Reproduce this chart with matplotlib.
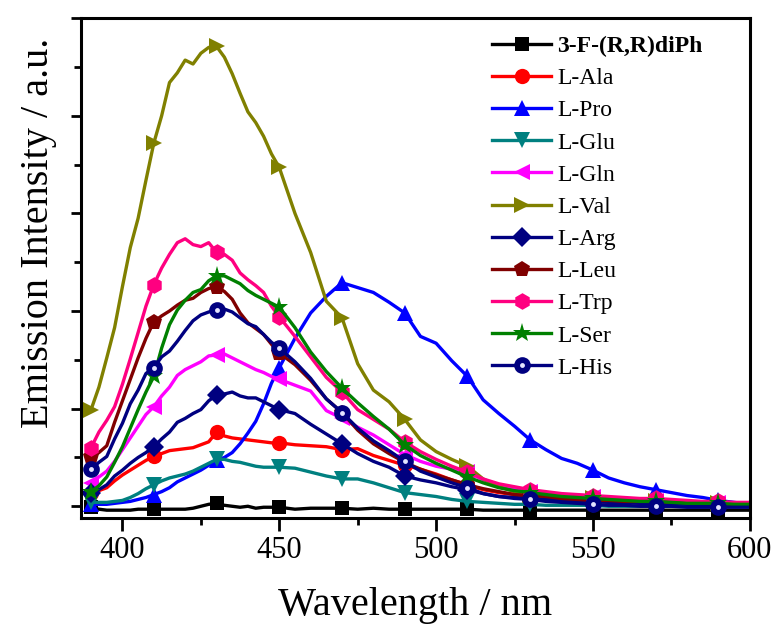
import numpy as np
import matplotlib
matplotlib.use("Agg")
import matplotlib.pyplot as plt
from matplotlib.legend_handler import HandlerTuple

plt.rcParams["font.family"] = ["Liberation Serif", "DejaVu Serif"]

# Emission wavelengths (nm): 2.5 nm steps up to 450 nm, 5 nm steps beyond
wavelength = [390, 392.5, 395, 397.5, 400, 402.5, 405, 407.5, 410, 412.5,
              415, 417.5, 420, 422.5, 425, 427.5, 430, 432.5, 435, 437.5,
              440, 442.5, 445, 447.5, 450,
              455, 460, 465, 470, 475, 480, 485, 490, 495, 500,
              505, 510, 515, 520, 525, 530, 535, 540, 545, 550,
              555, 560, 565, 570, 575, 580, 585, 590, 595, 600]

# Wavelengths carrying a symbol on each curve
marker_wavelengths = [390, 410, 430, 450, 470, 490, 510, 530, 550, 570, 590]

host = [-10, -30, -40, -40, -40, -40, -30, -30, -30, -30,
        -30, -30, -30, -20, 0, 20, 30, 10, 0, -10,
        0, -20, -10, -10, -10,
        -30, -20, -20, -20, -30, -20, -30, -30, -30, -30,
        -30, -30, -40, -40, -40, -40, -40, -40, -40, -40,
        -40, -40, -40, -40, -40, -40, -40, -40, -40, -40]

ala = [140, 160, 190, 260, 320, 370, 420, 470, 510, 540,
       570, 580, 590, 600, 630, 660, 760, 720, 700, 690,
       680, 670, 660, 650, 650,
       630, 620, 610, 580, 590, 520, 470, 420, 380, 330,
       270, 220, 170, 140, 120, 100, 80, 70, 60, 50,
       40, 40, 30, 30, 30, 20, 20, 20, 10, 10]

pro = [20, 20, 20, 30, 40, 50, 70, 90, 120, 150,
       190, 250, 290, 330, 370, 420, 470, 500, 550, 640,
       750, 870, 1050, 1260, 1420,
       1720, 1980, 2150, 2290, 2240, 2190, 2090, 1980, 1740, 1670,
       1490, 1330, 1090, 950, 820, 680, 580, 490, 440, 370,
       290, 240, 200, 170, 140, 110, 90, 60, 40, 20]

glu = [40, 40, 40, 50, 60, 90, 130, 180, 220, 260,
       290, 310, 330, 360, 400, 440, 480, 480, 460, 450,
       430, 410, 400, 400, 400,
       390, 350, 310, 280, 280, 240, 190, 140, 120, 100,
       70, 50, 40, 30, 20, 20, 10, 10, 10, 10,
       0, 0, 0, 0, 0, 0, 0, 0, 0, 0]

gln = [240, 300, 360, 460, 580, 700, 820, 940, 1020, 1130,
       1220, 1340, 1400, 1440, 1480, 1540, 1550, 1560, 1520, 1480,
       1440, 1400, 1370, 1330, 1300,
       1240, 1180, 980, 900, 810, 730, 630, 530, 460, 410,
       380, 350, 270, 210, 180, 150, 130, 120, 110, 90,
       80, 70, 60, 50, 50, 40, 40, 30, 30, 20]

val = [990, 1220, 1520, 1830, 2250, 2650, 2950, 3340, 3720, 4000,
       4340, 4440, 4570, 4530, 4640, 4700, 4710, 4600, 4430, 4230,
       4040, 3930, 3790, 3610, 3470,
       3000, 2600, 2100, 1930, 1460, 1190, 1070, 890, 680, 560,
       480, 410, 280, 200, 150, 120, 100, 90, 80, 80,
       70, 60, 50, 50, 40, 40, 30, 30, 20, 20]

arg = [140, 170, 220, 310, 370, 440, 500, 550, 610, 690,
       760, 860, 900, 950, 990, 1080, 1140, 1150, 1170, 1130,
       1110, 1110, 1070, 1030, 990,
       950, 840, 740, 640, 540, 460, 400, 310, 270, 240,
       200, 170, 130, 100, 90, 80, 70, 60, 50, 50,
       40, 40, 30, 30, 30, 20, 20, 20, 20, 20]

leu = [500, 550, 620, 860, 1080, 1300, 1520, 1720, 1890, 1950,
       2000, 2060, 2110, 2130, 2190, 2230, 2250, 2200, 2120, 1980,
       1880, 1820, 1760, 1660, 1570,
       1450, 1290, 1100, 960, 780, 640, 540, 450, 380, 320,
       270, 220, 180, 150, 120, 110, 100, 80, 70, 60,
       60, 50, 50, 50, 40, 40, 30, 30, 20, 20]

trp = [600, 760, 880, 1020, 1250, 1510, 1780, 2050, 2270, 2440,
       2580, 2700, 2740, 2680, 2660, 2700, 2600, 2580, 2520, 2390,
       2320, 2260, 2190, 2050, 1940,
       1740, 1530, 1320, 1170, 990, 890, 790, 660, 560, 480,
       410, 350, 280, 230, 200, 170, 150, 130, 120, 110,
       100, 90, 80, 80, 70, 60, 50, 50, 40, 40]

ser = [150, 210, 300, 450, 610, 800, 990, 1170, 1330, 1620,
       1860, 2010, 2110, 2190, 2220, 2310, 2360, 2360, 2320, 2280,
       2210, 2160, 2120, 2080, 2040,
       1830, 1580, 1380, 1210, 1060, 920, 790, 630, 520, 440,
       370, 300, 240, 190, 160, 140, 120, 100, 90, 80,
       70, 60, 50, 50, 40, 30, 30, 30, 20, 20]

his = [380, 450, 510, 690, 850, 1050, 1190, 1360, 1420, 1530,
       1590, 1690, 1800, 1900, 1960, 1990, 2010, 2020, 1990, 1930,
       1870, 1840, 1760, 1680, 1620,
       1480, 1310, 1100, 960, 800, 670, 570, 460, 360, 300,
       240, 190, 130, 100, 80, 70, 50, 40, 30, 20,
       10, 10, 0, 0, 0, -10, -10, -10, -10, -10]

labels = ["3-F-(R,R)diPh", "L-Ala", "L-Pro", "L-Glu", "L-Gln", "L-Val",
          "L-Arg", "L-Leu", "L-Trp", "L-Ser", "L-His"]
series = [host, ala, pro, glu, gln, val, arg, leu, trp, ser, his]
colors = ["#000000", "#FF0000", "#0000FF", "#008080", "#FF00FF", "#808000",
          "#000080", "#800000", "#FF0080", "#008000", "#000080"]
markers = ["s", "o", "^", "v", "<", ">", "D", "p", "h", "*", "o"]
msizes = [10, 11, 12, 12, 12, 12, 10, 12, 12, 14, 12]

x = np.array(wavelength)
mark = np.isin(x, marker_wavelengths)

fig = plt.figure(figsize=(7.74, 6.25), dpi=100)
ax = fig.add_axes([0.1047, 0.172, 0.864, 0.799])

handles = []
for lab, ys, c, m, ms in zip(labels, series, colors, markers, msizes):
    line, = ax.plot(x, ys, color=c, lw=2.4, marker=m, ms=ms,
                    markevery=mark, markeredgewidth=0, label=lab,
                    solid_joinstyle="round")
    if lab == "L-His":
        # glossy highlight on the spherical symbols
        glint, = ax.plot(x[mark], np.array(ys)[mark], ls="none", marker="o",
                         ms=3.5, color="#E4E4FF", markeredgewidth=0)
        handles.append((line, glint))
    else:
        handles.append(line)

ax.set_xlim(386.8, 600)
ax.set_ylim(-115, 4990)
ax.set_xticks([400, 450, 500, 550, 600])
ax.set_xticks([425, 475, 525, 575], minor=True)
ax.set_yticks(np.arange(0, 5001, 1000))
ax.set_yticks(np.arange(500, 5000, 1000), minor=True)
ax.set_yticklabels([])

for s in ax.spines.values():
    s.set_linewidth(2.2)
ax.tick_params(which="major", direction="out", width=2.0, labelsize=22, pad=4)
ax.tick_params(axis="x", which="major", length=9.5)
ax.tick_params(axis="y", which="major", length=7.5)
ax.tick_params(which="minor", direction="out", width=2.0, length=5)

ax.set_xlabel("Wavelength / nm", fontsize=29, labelpad=16)
ax.set_ylabel("Emission Intensity / a.u.", fontsize=29)
ax.yaxis.set_label_coords(-0.036, 0.57)

leg = ax.legend(handles, labels, loc="upper left",
                bbox_to_anchor=(0.615, 0.965), frameon=False,
                fontsize=17, handlelength=2.5, handletextpad=0.25,
                labelspacing=0.45, borderpad=0, borderaxespad=0,
                handler_map={tuple: HandlerTuple(ndivide=1)})
leg.get_texts()[0].set_fontweight("bold")

fig.savefig("out.png", dpi=100)
